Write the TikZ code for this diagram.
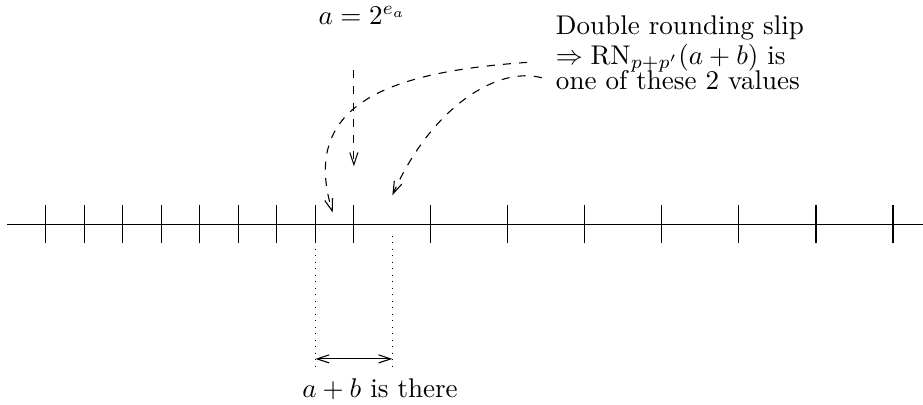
\documentclass[tikz,border=0pt]{standalone}
\usepackage{amsmath,amssymb}
\usepackage{tikz}
\usetikzlibrary{arrows.meta,positioning}

\begin{document}
\begin{tikzpicture}[>={Straight Barb[length=4.5pt,width=3pt]},x=0.5cm,y=0.5cm]
\useasboundingbox (-9.19,-4.68) rectangle (14.78,5.82);
% Define the points
\coordinate (W) at (-9,0);
\coordinate (E) at (14.78,0);
\coordinate (top) at (0,4);
\coordinate (aval) at (0,1.5);
\coordinate (s1) at (4.5,4.2);
\coordinate (e1) at (-0.55,0.3);
\coordinate (s2) at (4.88,3.8);
\coordinate (e2) at (1.0,0.75);
\coordinate (L1) at (-1,-0.3);
\coordinate (L2) at (-1,-3.72);
\coordinate (R1) at (1,-0.3);
\coordinate (R2) at (1,-3.72);
\coordinate (AL) at (-1,-3.5);
\coordinate (AR) at (1,-3.5);

% Define the labels
\node[anchor=base] (ea) at (0.22,5.19) {$a = 2^{e_a}$};
\node[align=left, anchor=north west] (note) at (5.0,5.66) {Double rounding slip\\[-1pt] $\Rightarrow \mathrm{RN}_{p+p'}(a+b)$ is\\[-2.5pt] one of these 2 values};
\node[anchor=base] (there) at (0.68,-4.49) {$a+b$ is there};

% Draw the axis and the ticks
\draw (W) -- (E);
\foreach \x in {-8,...,0,2,4,...,14}
  \draw (\x,-0.5) -- (\x,0.5);

% Draw the dashed arrows
\draw[->, dashed] (top) -- (aval);
\draw[->, dashed] (s1) to[out=184, in=107, out distance=1.75cm, in distance=1.5cm] (e1);
\draw[->, dashed] (s2) to[out=165, in=66, out distance=0.6cm, in distance=1.25cm] (e2);

% Draw the interval
\draw[dotted] (L1) -- (L2);
\draw[dotted] (R1) -- (R2);
\draw[<->] (AL) -- (AR);
\end{tikzpicture}
\end{document}
